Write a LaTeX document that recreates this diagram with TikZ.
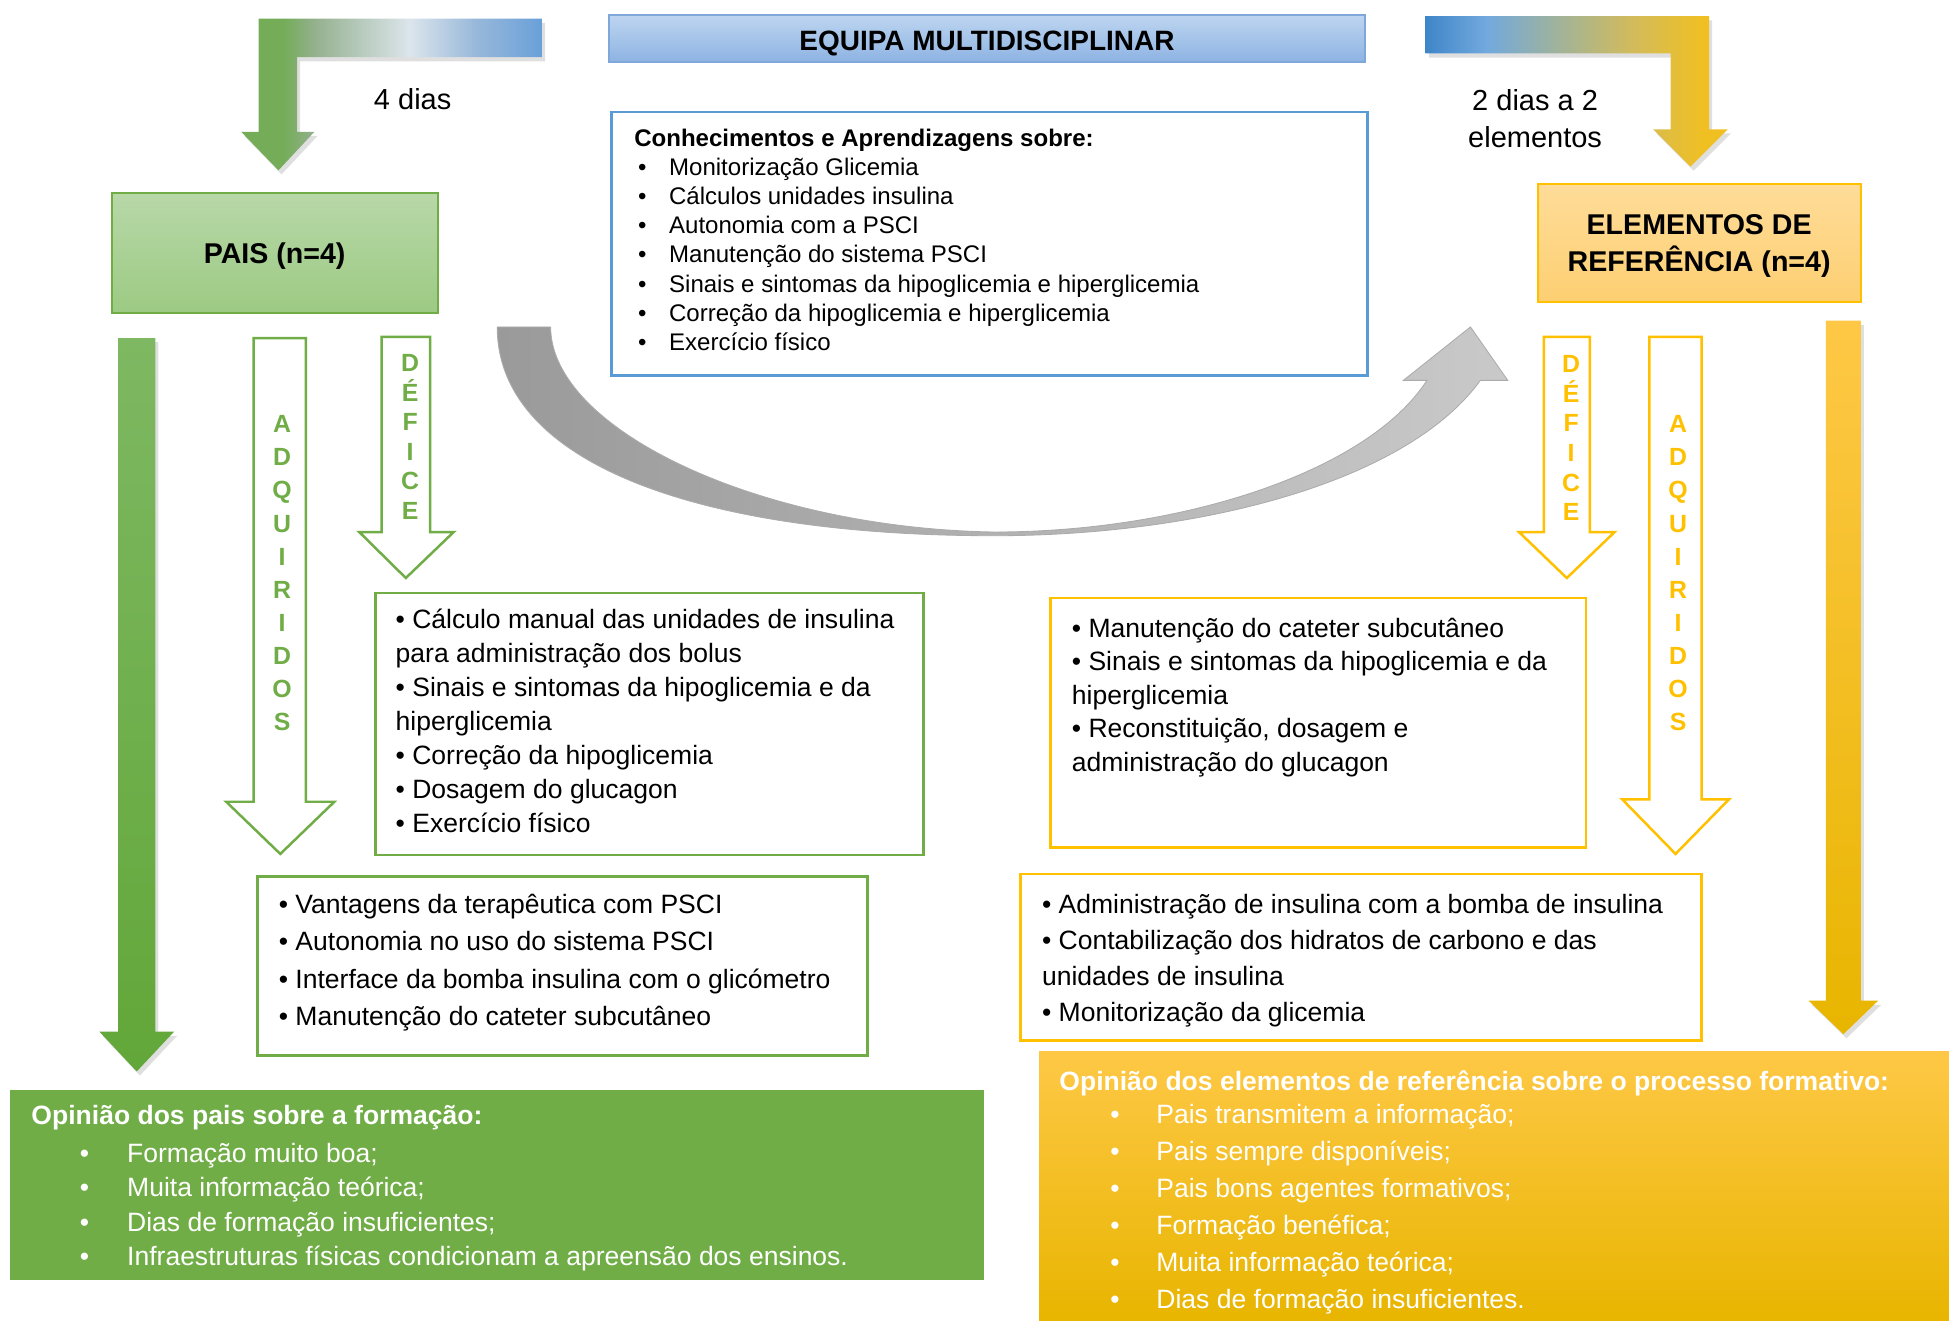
\documentclass[tikz,border=0pt]{standalone}
\usepackage{fontspec}
\setmainfont{Liberation Sans}
\usetikzlibrary{shadows}

\definecolor{verde}{HTML}{70AD47}
\definecolor{verdeA}{HTML}{B8D8A8}
\definecolor{verdeB}{HTML}{9CCA83}
\definecolor{verdeC}{HTML}{7EB862}
\definecolor{verdeD}{HTML}{62A739}
\definecolor{ouro}{HTML}{FFC000}
\definecolor{ouroA}{HTML}{FEDC98}
\definecolor{ouroB}{HTML}{FDCF72}
\definecolor{ouroC}{HTML}{FEC846}
\definecolor{ouroD}{HTML}{E8B500}
\definecolor{azul}{HTML}{5B9BD5}
\definecolor{azulA}{HTML}{BED5F0}
\definecolor{azulB}{HTML}{8DB3E2}
\definecolor{azulC}{HTML}{7FA7D9}
\definecolor{cinzaA}{HTML}{9A9A9A}
\definecolor{cinzaB}{HTML}{C9C9C9}
\definecolor{cinzaC}{HTML}{ABABAB}
\definecolor{sv1}{HTML}{74AC57}
\definecolor{sv2}{HTML}{93B08C}
\definecolor{sv3}{HTML}{DCE5EC}
\definecolor{sv4}{HTML}{98B8DA}
\definecolor{sv5}{HTML}{69A0D9}
\definecolor{sa1}{HTML}{3F86C8}
\definecolor{sa2}{HTML}{72A9DE}
\definecolor{sa3}{HTML}{A1B39A}
\definecolor{sa4}{HTML}{D1BB5C}
\definecolor{sa5}{HTML}{F0C022}

\pgfdeclarehorizontalshading{verdeazul}{100bp}{color(0bp)=(sv1); color(32bp)=(sv1); color(37bp)=(sv2); color(53bp)=(sv3); color(64bp)=(sv4); color(75bp)=(sv5); color(100bp)=(sv5)}
\pgfdeclarehorizontalshading{azulouro}{100bp}{color(0bp)=(sa1); color(25bp)=(sa1); color(35bp)=(sa2); color(47bp)=(sa3); color(59bp)=(sa4); color(71bp)=(sa5); color(100bp)=(sa5)}

\newcommand{\marca}[2]{\hspace*{#1}\makebox[#2][l]{\textbullet}}

\begin{document}
\begin{tikzpicture}[x=0.6pt,y=-0.6pt,
	caixa/.style={draw=#1,line width=1.2pt},
	seta/.style={draw=#1,line width=1.2pt,fill=white,line join=miter},
	letras/.style={text=#1,font=\bfseries\fontsize{12}{16}\selectfont,align=center,anchor=base,inner sep=0pt},
	lista/.style={align=left,anchor=base west,inner sep=0pt},
	sombra/.style={drop shadow={shadow xshift=1.5pt,shadow yshift=-2pt,opacity=0.25}}]
	\useasboundingbox (0,0) rectangle (1568,1062);

	\shade[shading=verdeazul,sombra] (208,15) -- (436,15) -- (436,46) -- (239,46) -- (239,106) -- (253,106) -- (224,137) -- (194,106) -- (208,106) -- cycle;
	\shade[shading=azulouro,sombra] (1147,13) -- (1375,13) -- (1375,104) -- (1390,104) -- (1360,134) -- (1330,104) -- (1344,104) -- (1344,43) -- (1147,43) -- cycle;
	\node[font=\fontsize{14}{18}\selectfont] (dias) at (332,80) {4 dias};
	\node[font=\fontsize{14}{18}\selectfont,align=center,anchor=base] (diaselem) at (1235,119) {2 dias a 2\\elementos};

	\node[draw=azulC,line width=1pt,top color=azulA,bottom color=azulB,minimum width=364.8pt,minimum height=22.8pt] (equipa) at (794,31) {};
	\node[font=\bfseries\fontsize{13.5}{16}\selectfont] (equipatexto) at ([yshift=-2.2pt]equipa.center) {EQUIPA MULTIDISCIPLINAR};
	\draw[caixa=azul] (492,90) rectangle (1100,302);
	\node[lista,font=\fontsize{11.6}{14.1}\selectfont] (saberes) at (510,282) {\textbf{Conhecimentos e Aprendizagens sobre:}\\
		\marca{1.8pt}{15pt}Monitorização Glicemia\\
		\marca{1.8pt}{15pt}Cálculos unidades insulina\\
		\marca{1.8pt}{15pt}Autonomia com a PSCI\\
		\marca{1.8pt}{15pt}Manutenção do sistema PSCI\\
		\marca{1.8pt}{15pt}Sinais e sintomas da hipoglicemia e hiperglicemia\\
		\marca{1.8pt}{15pt}Correção da hipoglicemia e hiperglicemia\\
		\marca{1.8pt}{15pt}Exercício físico};

	\node[draw=verde,line width=1pt,top color=verdeA,bottom color=verdeB,minimum width=157.2pt,minimum height=58.2pt] (pais) at (221,203.5) {};
	\node[font=\bfseries\fontsize{13.8}{16}\selectfont] (paistexto) at ([yshift=-1.6pt]pais.center) {PAIS (n=4)};
	\node[draw=ouro,line width=1pt,top color=ouroA,bottom color=ouroB,minimum width=156pt,minimum height=57pt] (elementos) at (1367,195.5) {};
	\node[align=center,font=\bfseries\fontsize{13.8}{18}\selectfont] (elementostexto) at ([yshift=-1.5pt]elementos.center) {ELEMENTOS DE\\REFERÊNCIA (n=4)};

	\shadedraw[left color=cinzaA,right color=cinzaB,draw=cinzaC,line width=0.4pt] (400,263) .. controls (400,372) and (560,431) .. (800,431) .. controls (960,431) and (1130,390) .. (1191,306) -- (1213,306) -- (1183,263) -- (1129,306) -- (1148,306) .. controls (1100,380) and (950,428) .. (800,428) .. controls (610,425) and (443,345) .. (443,263) -- cycle;

	\shade[top color=verdeC,bottom color=verdeD,sombra] (95,272) -- (125,272) -- (125,830) -- (140,830) -- (110,862) -- (80,830) -- (95,830) -- cycle;
	\draw[seta=verde] (204,272) -- (246,272) -- (246,645) -- (269,645) -- (225.5,687) -- (182,645) -- (204,645) -- cycle;
	\node[letras=verde] (adqpais) at (227,588) {A\\D\\Q\\U\\I\\R\\I\\D\\O\\S};
	\draw[seta=verde] (307,271) -- (346,271) -- (346,428) -- (365,428) -- (326.5,465) -- (289,428) -- (307,428) -- cycle;
	\node[letras=verde,font=\bfseries\fontsize{12}{14.3}\selectfont] (defpais) at (330,418) {D\\É\\F\\I\\C\\E};

	\draw[caixa=verde] (302,477) rectangle (743,688);
	\node[lista,font=\fontsize{12.8}{16.4}\selectfont] (listadefpais) at (318,670) {\textbullet\ Cálculo manual das unidades de insulina\\
		para administração dos bolus\\
		\textbullet\ Sinais e sintomas da hipoglicemia e da\\
		hiperglicemia\\
		\textbullet\ Correção da hipoglicemia\\
		\textbullet\ Dosagem do glucagon\\
		\textbullet\ Exercício físico};
	\draw[caixa=verde] (207,705) rectangle (698,849);
	\node[lista,font=\fontsize{12.8}{18}\selectfont] (listaadqpais) at (224,825) {\textbullet\ Vantagens da terapêutica com PSCI\\
		\textbullet\ Autonomia no uso do sistema PSCI\\
		\textbullet\ Interface da bomba insulina com o glicómetro\\
		\textbullet\ Manutenção do cateter subcutâneo};
	\fill[verde] (8,877) rectangle (792,1030);
	\node[lista,text=white,font=\fontsize{12.8}{16.6}\selectfont] (opiniaopais) at (25,1018) {\textbf{Opinião dos pais sobre a formação:}\\[1.4pt]
		\marca{23.4pt}{22.8pt}Formação muito boa;\\
		\marca{23.4pt}{22.8pt}Muita informação teórica;\\
		\marca{23.4pt}{22.8pt}Dias de formação insuficientes;\\
		\marca{23.4pt}{22.8pt}Infraestruturas físicas condicionam a apreensão dos ensinos.};

	\shade[top color=ouroC,bottom color=ouroD,sombra] (1469,258) -- (1497,258) -- (1497,805) -- (1511,805) -- (1483,832) -- (1455,805) -- (1469,805) -- cycle;
	\draw[seta=ouro] (1242,271) -- (1279,271) -- (1279,428) -- (1299,428) -- (1260.5,465) -- (1222,428) -- (1242,428) -- cycle;
	\node[letras=ouro,font=\bfseries\fontsize{12}{14.3}\selectfont] (defref) at (1264,419) {D\\É\\F\\I\\C\\E};
	\draw[seta=ouro] (1327,271) -- (1369,271) -- (1369,643) -- (1391,643) -- (1348,687) -- (1305,643) -- (1327,643) -- cycle;
	\node[letras=ouro] (adqref) at (1350,588) {A\\D\\Q\\U\\I\\R\\I\\D\\O\\S};

	\draw[caixa=ouro] (845,481) rectangle (1276,682);
	\node[lista,font=\fontsize{12.8}{16.2}\selectfont] (listadefref) at (862,620.5) {\textbullet\ Manutenção do cateter subcutâneo\\
		\textbullet\ Sinais e sintomas da hipoglicemia e da\\
		hiperglicemia\\
		\textbullet\ Reconstituição, dosagem e\\
		administração do glucagon};
	\draw[caixa=ouro] (821,703) rectangle (1369,837);
	\node[lista,font=\fontsize{12.8}{17.4}\selectfont] (listaadqref) at (838,822) {\textbullet\ Administração de insulina com a bomba de insulina\\
		\textbullet\ Contabilização dos hidratos de carbono e das\\
		unidades de insulina\\
		\textbullet\ Monitorização da glicemia};
	\shade[top color=ouroC,bottom color=ouroD] (836,846) rectangle (1568,1062);
	\node[lista,text=white,font=\fontsize{12.8}{17.9}\selectfont] (opiniaoref) at (852,1053) {\textbf{Opinião dos elementos de referência sobre o processo formativo:}\\[-1.8pt]
		\marca{24.6pt}{22.2pt}Pais transmitem a informação;\\
		\marca{24.6pt}{22.2pt}Pais sempre disponíveis;\\
		\marca{24.6pt}{22.2pt}Pais bons agentes formativos;\\
		\marca{24.6pt}{22.2pt}Formação benéfica;\\
		\marca{24.6pt}{22.2pt}Muita informação teórica;\\
		\marca{24.6pt}{22.2pt}Dias de formação insuficientes.};
\end{tikzpicture}
\end{document}
